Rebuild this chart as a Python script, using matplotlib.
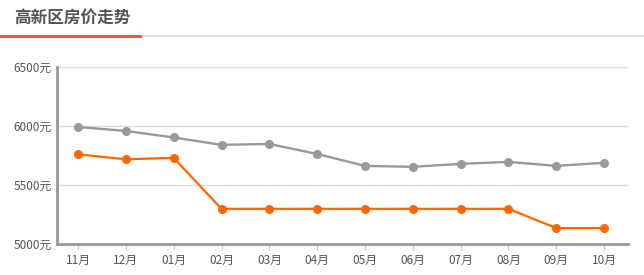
import matplotlib.pyplot as plt
from matplotlib.lines import Line2D

plt.rcParams['font.family'] = ['Noto Sans CJK SC', 'DejaVu Sans']

months = ['11月', '12月', '01月', '02月', '03月', '04月', '05月', '06月', '07月', '08月', '09月', '10月']
city_prices = [5992, 5958, 5903, 5840, 5848, 5763, 5662, 5654, 5679, 5696, 5662, 5688]
district_prices = [5760, 5718, 5730, 5298, 5298, 5298, 5298, 5298, 5298, 5298, 5135, 5135]
y_ticks = [5000, 5500, 6000, 6500]

fig = plt.figure(figsize=(6.44, 2.75), dpi=100)
ax = fig.add_axes([57 / 644, 31 / 275, 571 / 644, 177 / 275])

x = list(range(len(months)))
ax.plot(x, city_prices, color='#999999', lw=1.7, marker='o', ms=5.5, zorder=3)
ax.plot(x, district_prices, color='#ff6600', lw=1.6, marker='o', ms=5.5, zorder=4)

ax.set_xlim(-0.44, 11.5)
ax.set_ylim(5000, 6500)
ax.set_yticks(y_ticks)
ax.set_yticklabels([f'{v}元' for v in y_ticks], fontsize=8.5, color='#555555')
ax.set_xticks(x)
ax.set_xticklabels(months, fontsize=8.5, color='#555555')
ax.grid(axis='y', color='#dddddd', lw=1)
ax.set_axisbelow(True)
ax.tick_params(axis='y', length=0, pad=4)
ax.tick_params(axis='x', length=4, color='#b8c8dc', pad=3)

for side in ['top', 'right']:
    ax.spines[side].set_visible(False)
for side in ['left', 'bottom']:
    ax.spines[side].set_color('#999999')
    ax.spines[side].set_linewidth(2)

# title and header underline
fig.text(14 / 644, 1 - 18 / 275, '高新区房价走势', fontsize=12, fontweight='bold',
         color='#555555', va='center', ha='left')
fig.add_artist(Line2D([0, 1], [1 - 35.5 / 275] * 2, color='#dddddd', lw=1.2,
                      transform=fig.transFigure))
fig.add_artist(Line2D([0, 140 / 644], [1 - 35.5 / 275] * 2, color='#ff5a1f', lw=2.2,
                      transform=fig.transFigure))

fig.savefig('out.png', dpi=100)
